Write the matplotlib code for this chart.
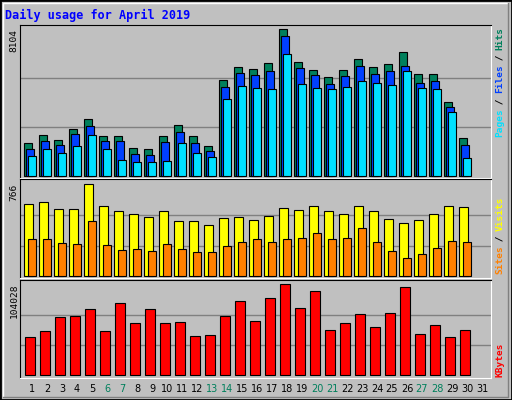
import matplotlib
matplotlib.use("Agg")
import matplotlib.pyplot as plt
from matplotlib.patches import Rectangle
import numpy as np

days = list(range(1, 32))
weekend = [6, 7, 13, 14, 20, 21, 27, 28]
def sc(z, base, top, mx):
    return [round(mx * (base - v) / (base - top)) for v in z]
hits = sc([370,346,361,328,298,349,349,385,388,349,316,349,379,181,142,148,130,28,127,151,172,151,118,142,133,97,163,163,247,355], 468, 28, 8104)
files = sc([388,364,376,343,319,364,364,403,406,367,337,370,394,202,160,166,154,49,145,166,193,169,139,163,154,139,190,184,262,376], 468, 28, 8104)
pages = sc([409,388,400,379,346,388,421,427,427,424,370,400,412,238,199,205,208,103,193,205,208,202,184,190,196,154,205,208,277,415], 468, 28, 8104)
visits = sc([88,82,103,103,28,94,109,118,127,109,139,139,151,130,127,136,124,100,106,94,109,118,94,109,133,145,136,118,94,97], 304, 28, 766)
sites = sc([193,193,205,208,139,211,226,223,229,208,223,232,232,214,202,193,202,193,190,175,193,190,160,202,229,250,238,220,199,202], 304, 28, 766)
kbytes = sc([487,469,427,424,403,469,385,445,403,445,442,484,481,424,379,439,370,328,400,349,466,445,418,457,415,337,478,451,487,466], 601, 328, 104028)

W, H = 512, 400
fig = plt.figure(figsize=(W/100, H/100), dpi=100, facecolor="#C0C0C0")
def ax_px(x0, y0, x1, y1):
    return fig.add_axes([x0/W, 1-y1/H, (x1-x0)/W, (y1-y0)/H])

fig.patches.append(Rectangle((0, 0), 1, 1, transform=fig.transFigure, fill=False, ec="black", lw=2))
fig.lines.append(plt.Line2D([3/W, 3/W, 508/W], [3/H, 1-3/H, 1-3/H], transform=fig.transFigure, color="white", lw=1))
fig.lines.append(plt.Line2D([3/W, 508/W, 508/W], [3/H, 3/H, 1-3/H], transform=fig.transFigure, color="#808080", lw=1))

x = np.array(days[:30], dtype=float)
XMIN, XMAX = 0.2, 0.2 + 471/15
px = 1/15
def style(ax, ymin, ymax, mx):
    ax.set_facecolor("#C0C0C0")
    ax.set_xlim(XMIN, XMAX); ax.set_ylim(ymin, ymax)
    ax.set_xticks([]); ax.set_yticks([])
    for g in (mx/3, 2*mx/3):
        ax.axhline(g, color="#808080", lw=1, zorder=0)
    for s in ("left", "top"): ax.spines[s].set_color("black")
    for s in ("right", "bottom"): ax.spines[s].set_color("white")

kw = dict(align="edge", edgecolor="black", linewidth=0.8)
ax1 = ax_px(20, 25, 491, 178)
style(ax1, -110, 8341, 8104)
ax1.bar(x - 8*px, hits, width=8*px, color="#00805c", **kw)
ax1.bar(x - 6*px, files, width=8*px, color="#0040ff", **kw)
ax1.bar(x - 4*px, pages, width=7.5*px, color="#00e0ff", **kw)

ax2 = ax_px(20, 179, 491, 278)
style(ax2, -14, 810, 766)
ax2.bar(x - 8*px, visits, width=8.5*px, color="#ffff00", **kw)
ax2.bar(x - 4*px, sites, width=7.5*px, color="#ff8000", **kw)

ax3 = ax_px(20, 280, 491, 378)
style(ax3, -3100, 108940, 104028)
ax3.bar(x - 7*px, kbytes, width=10*px, color="#ff0000", **kw)

mono = "DejaVu Sans Mono"
fig.text(5/W, 1-19/H, "Daily usage for April 2019", color="#0000ff", fontsize=8.5,
         family=mono, weight="bold", va="baseline")
for lab, ytop in (("8104", 29), ("766", 184), ("104028", 283)):
    fig.text(14/W, 1-ytop/H, lab, rotation=90, fontsize=6.8, family=mono, ha="center", va="top")

def vlabel(parts, y_start, anchor_top):
    cw = 5.45
    total = sum(len(p) for p, _ in parts) * cw
    y = (y_start + total) if anchor_top else y_start
    for p, c in parts:
        fig.text(500/W, 1-y/H, p, rotation=90, fontsize=6.8, family=mono, color=c,
                 ha="center", va="bottom", weight="bold")
        y -= len(p) * cw
vlabel([("Pages", "#00e0ff"), (" / ", "black"), ("Files", "#0040ff"), (" / ", "black"), ("Hits", "#00805c")], 28, True)
vlabel([("Sites", "#ff8000"), (" / ", "black"), ("Visits", "#ffff00")], 198, True)
vlabel([("KBytes", "#ff0000")], 377, False)

for d in days:
    xf = (20 + (d - XMIN) * 15) / W
    fig.text(xf, 1-389/H, str(d), fontsize=7, family="DejaVu Sans", ha="center", va="center",
             color="#00805c" if d in weekend else "black")

fig.savefig("out.png", dpi=100, facecolor=fig.get_facecolor())
